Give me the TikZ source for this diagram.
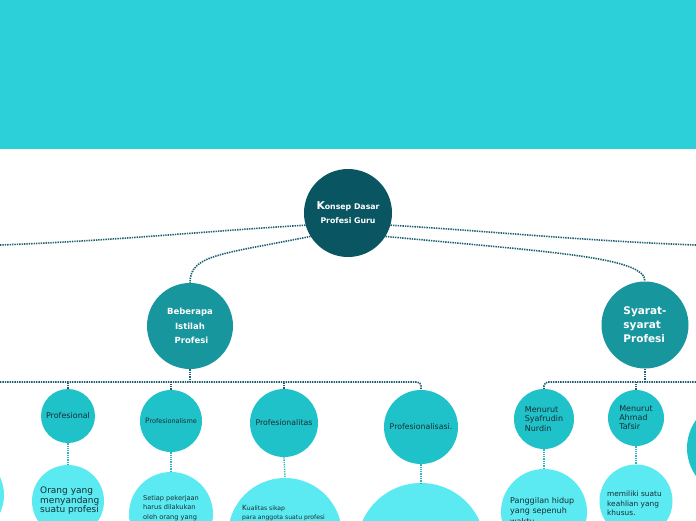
\documentclass[tikz,border=0pt]{standalone}
\usepackage{fontspec}
\setmainfont{DejaVu Sans}
\definecolor{banner}{RGB}{43,208,217}
\definecolor{lvlzero}{RGB}{10,85,98}
\definecolor{lvlone}{RGB}{24,150,158}
\definecolor{lvltwo}{RGB}{32,194,202}
\definecolor{lvlthree}{RGB}{92,234,242}
\definecolor{conndark}{RGB}{30,95,112}
\definecolor{connlight}{RGB}{40,182,196}
\definecolor{txtdark}{RGB}{25,45,50}
\tikzset{
  ball/.style={circle, inner sep=0pt, minimum size=#1},
  rootball/.style={ball=88pt, fill=lvlzero, text=white, font=\bfseries\fontsize{7.8}{14}\selectfont, align=center},
  oneball/.style={ball=86pt, fill=lvlone, text=white, align=center},
  twoball/.style={ball=#1, fill=lvltwo, text=txtdark, font=\fontsize{8}{9.5}\selectfont},
  threeball/.style={ball=#1, fill=lvlthree},
  gtext/.style={anchor=west, align=left, text=txtdark, inner sep=0pt},
  conn/.style={draw=conndark, line width=1.6pt, dash pattern=on 1.4pt off 1pt},
  connl/.style={draw=connlight, line width=1.4pt, dash pattern=on 1.3pt off 1pt},
}
\begin{document}
\begin{tikzpicture}[x=1pt,y=-1pt]
\useasboundingbox (0,0) rectangle (696,520);
\clip (0,0) rectangle (696,520);
\fill[white] (0,0) rectangle (696,520);
\fill[banner] (0,0) rectangle (696,149);

% coordinates for free ends
\coordinate (leL) at (0,245);
\coordinate (leR) at (696,245);
\coordinate (busL) at (0,382);
\coordinate (busR) at (696,382);

% root
\node[rootball] (c) at (348,213) {{\fontsize{10.8}{12}\selectfont K}onsep Dasar\\Profesi Guru};

% level one
\node[oneball, font=\bfseries\fontsize{8.5}{14.5}\selectfont] (b) at (190,326) {Beberapa\\Istilah\\\ Profesi};
\node[oneball, ball=87pt, font=\bfseries\fontsize{10.5}{14}\selectfont, align=left] (s) at (645,325) {Syarat-\\syarat\\Profesi};

% level two
\node[twoball=54pt] (p1) at (68,416) {Profesional};
\node[twoball=62pt, font=\fontsize{6.5}{8}\selectfont] (p2) at (171,421) {{\fontsize{7.5}{8}\selectfont P}rofesionalisme};
\node[twoball=68pt, font=\fontsize{7.8}{9}\selectfont] (p3) at (284,423) {Profesionalitas};
\node[twoball=74pt, font=\fontsize{7.8}{9}\selectfont] (p4) at (421,427) {Profesionalisasi.};
\node[twoball=60pt, align=left, font=\fontsize{8}{9.7}\selectfont] (s1) at (544,419) {Menurut\\Syafrudin\\Nurdin};
\node[twoball=56pt, align=left, font=\fontsize{8}{9}\selectfont] (s2) at (636,418) {Menurut\\Ahmad\\Tafsir};
\node[twoball=96pt] (s3) at (735,448) {};

% level three
\node[threeball=84pt] (g0) at (-38,495) {};
\node[threeball=72pt] (g1) at (68,501) {};
\node[threeball=84pt] (g2) at (171,514) {};
\node[threeball=114pt] (g3) at (285,535) {};
\node[threeball=128pt] (g4) at (421,547) {};
\node[threeball=86pt] (g5) at (544,512) {};
\node[threeball=73pt] (g6) at (636,501) {};

% texts of level three
\node[gtext, font=\fontsize{9}{9.5}\selectfont] (t1) at (40,501) {Orang yang\\menyandang\\suatu profesi};
\node[gtext, font=\fontsize{6.6}{9.5}\selectfont] (t2) at (143,508) {Setiap pekerjaan\\harus dilakukan\\oleh orang yang};
\node[gtext, font=\fontsize{6.1}{9.5}\selectfont] (t3) at (242,513) {{\fontsize{7.2}{9}\selectfont K}ualitas sikap\\para anggota suatu profesi};
\node[gtext, font=\fontsize{8}{10.3}\selectfont] (t5) at (510,511) {Panggilan hidup\\yang sepenuh\\waktu};
\node[gtext, font=\fontsize{7.4}{9.5}\selectfont] (t6) at (607,503.5) {memiliki suatu\\keahlian yang\\khusus.};

% connectors from the root
\draw[conn] (c.196) .. controls +(-100,6) and +(110,-4) .. (leL);
\draw[conn] (c.212) .. controls +(-90,18) and +(0,-28) .. (b.north);
\draw[conn] (c.-16) .. controls +(100,6) and +(-110,-4) .. (leR);
\draw[conn] (c.-32) .. controls +(170,16) and +(0,-24) .. (s.north);

% bus under b
\draw[conn] (b.south) -- (b.south |- busL);
\draw[conn, rounded corners=4pt] (busL) -| (p4.north);
\draw[conn] (p1.north) -- (p1.north |- busL);
\draw[conn] (p2.north) -- (p2.north |- busL);
\draw[conn] (p3.north) -- (p3.north |- busL);

% bus under s
\draw[conn] (s.south) -- (s.south |- busR);
\draw[conn, rounded corners=4pt] (busR) -| (s1.north);
\draw[conn] (s2.north) -- (s2.north |- busR);

% level two to three
\draw[connl] (p1.south) -- (g1.north);
\draw[connl] (p2.south) -- (g2.north);
\draw[connl] (p3.south) -- (g3.north);
\draw[connl] (p4.south) -- (g4.north);
\draw[connl] (s1.south) -- (g5.north);
\draw[connl] (s2.south) -- (g6.north);
\end{tikzpicture}
\end{document}
